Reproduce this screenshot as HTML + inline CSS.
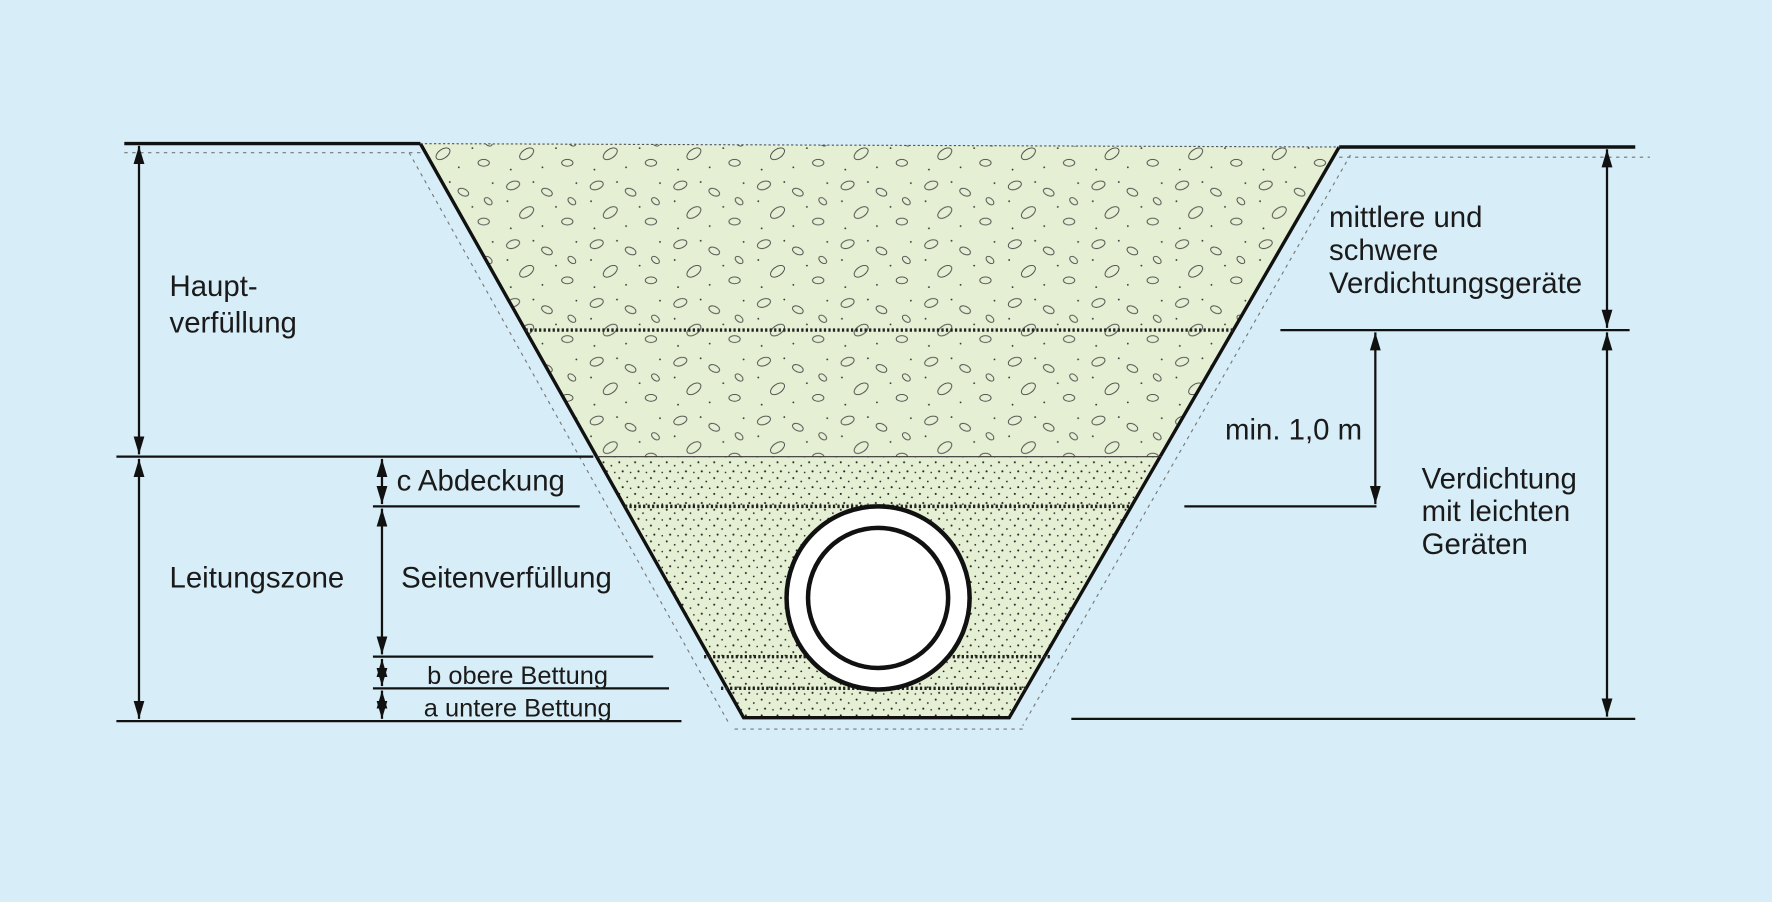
<!DOCTYPE html>
<html><head><meta charset="utf-8"><style>
html,body{margin:0;padding:0;background:#d7edf7;}
svg{display:block}
text{font-family:"Liberation Sans",sans-serif;font-size:26px;fill:#1a1a1a}
</style></head><body>
<svg width="1772" height="902" viewBox="0 0 1568 798" xmlns="http://www.w3.org/2000/svg">
<defs>
<pattern id="stones" width="74" height="52" patternUnits="userSpaceOnUse">
<ellipse cx="10" cy="8" rx="6" ry="3.5" fill="none" stroke="#444" stroke-width="0.8" transform="rotate(-20 10 8)"/>
<ellipse cx="40" cy="14" rx="5" ry="3" fill="none" stroke="#444" stroke-width="0.8" transform="rotate(25 40 14)"/>
<ellipse cx="22" cy="32" rx="7" ry="4" fill="none" stroke="#444" stroke-width="0.8" transform="rotate(-35 22 32)"/>
<ellipse cx="58" cy="40" rx="5" ry="3" fill="none" stroke="#444" stroke-width="0.8"/>
<ellipse cx="62" cy="22" rx="4" ry="2.5" fill="none" stroke="#444" stroke-width="0.8" transform="rotate(40 62 22)"/>
<circle cx="28" cy="5" r="0.8" fill="#333"/><circle cx="5" cy="22" r="0.8" fill="#333"/>
<circle cx="48" cy="27" r="0.8" fill="#333"/><circle cx="36" cy="44" r="0.8" fill="#333"/>
<circle cx="66" cy="6" r="0.8" fill="#333"/><circle cx="8" cy="46" r="0.8" fill="#333"/>
</pattern>
<pattern id="sand" width="14" height="14" patternUnits="userSpaceOnUse">
<circle cx="2" cy="3" r="0.9" fill="#222"/><circle cx="9" cy="6" r="0.8" fill="#222"/>
<circle cx="5" cy="11" r="0.9" fill="#222"/><circle cx="12" cy="12" r="0.7" fill="#222"/>
</pattern>
<clipPath id="tr"><polygon points="372,127 1185,130 893,635 658,635"/></clipPath>
<marker id="a" viewBox="0 0 10 10" refX="10" refY="5" markerWidth="8" markerHeight="8" orient="auto-start-reverse"><path d="M0,2 L10,5 L0,8 z" fill="#111"/></marker>
</defs>
<polygon points="372,127 1185,130 893,635 658,635" fill="#e5efd3"/>
<g clip-path="url(#tr)">
<rect x="300" y="127" width="1000" height="277" fill="url(#stones)"/>
<rect x="300" y="404" width="1000" height="240" fill="url(#sand)"/>
</g>
<g stroke="#777" stroke-width="1" stroke-dasharray="3 4" fill="none">
<line x1="110" y1="135" x2="372" y2="135"/><line x1="1185" y1="139" x2="1460" y2="139"/>
<line x1="362" y1="135" x2="645" y2="640"/><line x1="1195" y1="137" x2="905" y2="642"/>
<line x1="650" y1="645" x2="905" y2="645"/>
</g>
<g stroke="#111" stroke-width="3" fill="none">
<line x1="110" y1="127" x2="372" y2="127"/>
<line x1="1185" y1="130" x2="1447" y2="130"/>
<polyline points="372,127 658,635 893,635 1185,130"/>
</g>
<line x1="372" y1="127" x2="1185" y2="130" stroke="#555" stroke-width="1" stroke-dasharray="2 2"/>
<g stroke="#222" stroke-width="3" stroke-dasharray="2 2">
<line x1="465" y1="292" x2="1092" y2="292"/>
<line x1="553" y1="448" x2="1000" y2="448"/>
<line x1="623" y1="581" x2="929" y2="581"/>
<line x1="638" y1="609" x2="910" y2="609"/>
</g>
<line x1="528" y1="404" x2="1028" y2="404" stroke="#333" stroke-width="1"/>
<g stroke="#111" stroke-width="2">
<line x1="1133" y1="292" x2="1442" y2="292"/>
<line x1="103" y1="404" x2="525" y2="404"/>
<line x1="330" y1="448" x2="513" y2="448"/>
<line x1="1048" y1="448" x2="1218" y2="448"/>
<line x1="330" y1="581" x2="578" y2="581"/>
<line x1="330" y1="609" x2="592" y2="609"/>
<line x1="103" y1="638" x2="603" y2="638"/>
<line x1="948" y1="636" x2="1447" y2="636"/>
</g>
<g stroke="#111" stroke-width="2" marker-start="url(#a)" marker-end="url(#a)">
<line x1="123" y1="129" x2="123" y2="402"/>
<line x1="123" y1="406" x2="123" y2="636"/>
<line x1="338" y1="406" x2="338" y2="446"/>
<line x1="338" y1="450" x2="338" y2="579"/>
<line x1="338" y1="583" x2="338" y2="607"/>
<line x1="338" y1="611" x2="338" y2="636"/>
<line x1="1217" y1="294" x2="1217" y2="446"/>
<line x1="1422" y1="132" x2="1422" y2="290"/>
<line x1="1422" y1="294" x2="1422" y2="634"/>
</g>
<circle cx="777" cy="529" r="81" fill="#fff" stroke="#111" stroke-width="4"/>
<circle cx="777" cy="529" r="62" fill="#fff" stroke="#111" stroke-width="4"/>
<text x="150" y="262">Haupt-</text>
<text x="150" y="294">verfüllung</text>
<text x="351" y="434">c Abdeckung</text>
<text x="150" y="520">Leitungszone</text>
<text x="355" y="520">Seitenverfüllung</text>
<text x="378" y="605" style="font-size:22.5px">b obere Bettung</text>
<text x="375" y="634" style="font-size:22.5px">a untere Bettung</text>
<text x="1176" y="201">mittlere und</text>
<text x="1176" y="230">schwere</text>
<text x="1176" y="259">Verdichtungsgeräte</text>
<text x="1084" y="389">min. 1,0 m</text>
<text x="1258" y="432">Verdichtung</text>
<text x="1258" y="461">mit leichten</text>
<text x="1258" y="490">Geräten</text>
</svg>
</body></html>
